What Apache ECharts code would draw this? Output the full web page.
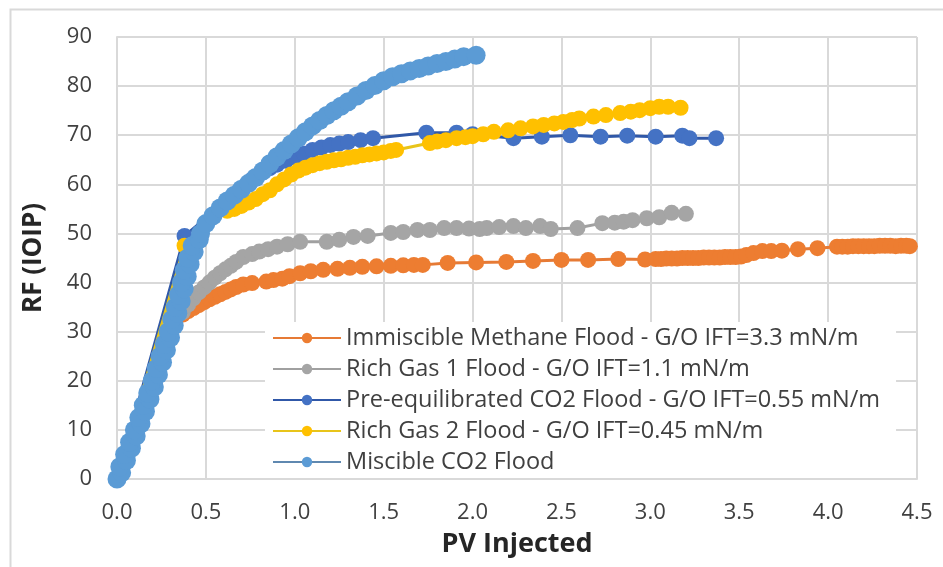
<!DOCTYPE html>
<html>
<head>
<meta charset="utf-8">
<script src="https://cdn.jsdelivr.net/npm/echarts@6/dist/echarts.min.js"></script>
<style>
html,body{margin:0;padding:0;background:#fff;}
#chart{width:943px;height:567px;}
</style>
</head>
<body>
<div id="chart"></div>
<script>
// ---- Data ----
var seriesNames = [
  'Immiscible Methane Flood - G/O IFT=3.3 mN/m',
  'Rich Gas 1 Flood - G/O IFT=1.1 mN/m',
  'Pre-equilibrated CO2 Flood - G/O IFT=0.55 mN/m',
  'Rich Gas 2 Flood - G/O IFT=0.45 mN/m',
  'Miscible CO2 Flood'
];

var methanePV = [0, 0.37, 0.40, 0.43, 0.46, 0.49, 0.52, 0.55, 0.58, 0.61, 0.64, 0.67, 0.71, 0.76, 0.84, 0.88, 0.93, 0.97, 1.03, 1.09, 1.16, 1.24, 1.31, 1.38, 1.46, 1.54, 1.61, 1.67, 1.72, 1.86, 2.02, 2.19, 2.34, 2.50, 2.65, 2.82, 2.97, 3.03, 3.06, 3.09, 3.12, 3.15, 3.18, 3.21, 3.24, 3.27, 3.30, 3.33, 3.36, 3.39, 3.42, 3.45, 3.48, 3.51, 3.54, 3.58, 3.63, 3.68, 3.74, 3.83, 3.94, 4.05, 4.08, 4.11, 4.14, 4.17, 4.20, 4.23, 4.26, 4.29, 4.32, 4.35, 4.38, 4.41, 4.44, 4.46];
var methaneRF = [0, 33.5, 34.2, 34.8, 35.4, 36.0, 36.6, 37.1, 37.6, 38.1, 38.6, 39.1, 39.6, 39.9, 40.2, 40.5, 40.8, 41.3, 41.9, 42.3, 42.6, 42.8, 43.0, 43.2, 43.3, 43.4, 43.5, 43.6, 43.6, 44.0, 44.1, 44.2, 44.4, 44.6, 44.6, 44.8, 44.7, 44.8, 44.8, 44.9, 44.9, 44.9, 45.0, 45.0, 45.0, 45.0, 45.1, 45.1, 45.1, 45.1, 45.2, 45.2, 45.2, 45.3, 45.6, 46.0, 46.4, 46.4, 46.5, 46.8, 47.0, 47.3, 47.3, 47.3, 47.4, 47.4, 47.4, 47.4, 47.4, 47.5, 47.5, 47.5, 47.4, 47.5, 47.5, 47.4];

var richGas1PV = [0, 0.37, 0.40, 0.43, 0.46, 0.49, 0.52, 0.55, 0.58, 0.61, 0.64, 0.67, 0.71, 0.76, 0.80, 0.85, 0.90, 0.96, 1.03, 1.18, 1.25, 1.33, 1.41, 1.54, 1.61, 1.69, 1.76, 1.84, 1.91, 1.98, 2.04, 2.08, 2.15, 2.23, 2.30, 2.38, 2.44, 2.59, 2.73, 2.80, 2.85, 2.90, 2.98, 3.05, 3.12, 3.20];
var richGas1RF = [0, 34.0, 35.5, 36.8, 38.0, 39.0, 40.0, 41.0, 41.9, 42.7, 43.4, 44.2, 45.2, 45.8, 46.3, 46.8, 47.3, 47.8, 48.3, 48.3, 48.7, 49.3, 49.5, 50.1, 50.3, 50.7, 50.7, 51.1, 51.1, 51.0, 50.9, 51.1, 51.3, 51.5, 51.1, 51.5, 50.9, 51.1, 52.1, 52.2, 52.4, 52.7, 53.1, 53.3, 54.2, 54.0];

var preEqCO2PV = [0, 0.38, 0.76, 0.82, 0.86, 0.90, 0.95, 1.00, 1.05, 1.10, 1.15, 1.20, 1.25, 1.30, 1.37, 1.44, 1.74, 1.91, 2.00, 2.23, 2.39, 2.55, 2.72, 2.87, 3.03, 3.18, 3.22, 3.37];
var preEqCO2RF = [0, 49.5, 61.0, 62.5, 63.3, 64.0, 64.8, 65.5, 66.3, 67.0, 67.5, 68.0, 68.3, 68.6, 69.0, 69.4, 70.5, 70.5, 70.2, 69.4, 69.7, 70.0, 69.7, 69.9, 69.7, 69.9, 69.4, 69.4];

var richGas2PV = [0, 0.38, 0.62, 0.66, 0.70, 0.74, 0.78, 0.82, 0.86, 0.90, 0.94, 0.98, 1.02, 1.06, 1.10, 1.14, 1.18, 1.22, 1.26, 1.30, 1.34, 1.38, 1.42, 1.46, 1.50, 1.54, 1.57, 1.76, 1.80, 1.85, 1.91, 1.96, 2.00, 2.06, 2.12, 2.20, 2.27, 2.34, 2.40, 2.46, 2.51, 2.56, 2.60, 2.68, 2.75, 2.83, 2.89, 2.94, 3.00, 3.05, 3.10, 3.17];
var richGas2RF = [0, 47.5, 54.6, 55.0, 55.6, 56.3, 57.0, 58.0, 58.8, 60.0, 61.0, 62.0, 62.8, 63.4, 63.9, 64.3, 64.6, 64.9, 65.1, 65.4, 65.6, 65.9, 66.1, 66.3, 66.5, 66.8, 67.0, 68.4, 68.7, 69.0, 69.4, 69.6, 69.8, 70.2, 70.7, 71.0, 71.4, 71.8, 72.1, 72.4, 72.7, 73.1, 73.4, 73.8, 74.1, 74.5, 74.8, 75.1, 75.5, 75.8, 75.8, 75.6];

var miscibleCO2PV = [0, 0.026, 0.016, 0.053, 0.043, 0.081, 0.071, 0.108, 0.098, 0.135, 0.123, 0.160, 0.148, 0.185, 0.173, 0.210, 0.198, 0.233, 0.221, 0.256, 0.243, 0.278, 0.266, 0.301, 0.288, 0.322, 0.308, 0.342, 0.328, 0.361, 0.346, 0.378, 0.363, 0.395, 0.379, 0.411, 0.398, 0.434, 0.423, 0.463, 0.47, 0.50, 0.54, 0.58, 0.62, 0.66, 0.70, 0.74, 0.78, 0.82, 0.86, 0.90, 0.94, 0.98, 1.02, 1.06, 1.10, 1.14, 1.18, 1.22, 1.26, 1.30, 1.35, 1.40, 1.45, 1.50, 1.55, 1.60, 1.65, 1.70, 1.75, 1.80, 1.85, 1.90, 1.95, 2.02];
var miscibleCO2RF = [0, 1.25, 2.5, 3.75, 5.0, 6.25, 7.5, 8.75, 10.0, 11.25, 12.5, 13.75, 15.0, 16.25, 17.5, 18.75, 20.0, 21.25, 22.5, 23.75, 25.0, 26.25, 27.5, 28.75, 30.0, 31.25, 32.5, 33.75, 35.0, 36.25, 37.5, 38.75, 40.0, 41.25, 42.5, 43.75, 45.0, 46.25, 47.5, 48.75, 50.0, 52.0, 53.6, 55.2, 56.6, 57.8, 59.0, 60.2, 61.4, 62.7, 64.2, 65.6, 66.9, 68.2, 69.5, 70.7, 71.9, 73.0, 74.0, 75.0, 75.9, 76.8, 78.0, 79.1, 80.1, 81.1, 81.9, 82.5, 83.1, 83.6, 84.1, 84.6, 85.0, 85.5, 86.0, 86.3];

var xTicks = [0, 0.5, 1.0, 1.5, 2.0, 2.5, 3.0, 3.5, 4.0, 4.5];
var yTicks = [0, 10, 20, 30, 40, 50, 60, 70, 80, 90];

// ---- Styles ----
var markerColors = ['#ED7D31', '#A5A5A5', '#4472C4', '#FFC000', '#5B9BD5'];
var lineColors   = ['#E67A35', '#A0A0A0', '#3058A8', '#E8C41A', '#5F88B0'];
var markerSizes  = [16, 16, 16, 16, 19];

function zip(xs, ys) {
  var out = [];
  for (var i = 0; i < xs.length; i++) out.push([xs[i], ys[i]]);
  return out;
}
var allData = [
  zip(methanePV, methaneRF),
  zip(richGas1PV, richGas1RF),
  zip(preEqCO2PV, preEqCO2RF),
  zip(richGas2PV, richGas2RF),
  zip(miscibleCO2PV, miscibleCO2RF)
];

var font = '"Open Sans", "Noto Sans", sans-serif';
var gridColor = '#D9D9D9';
var textColor = '#404040';

var series = allData.map(function (d, i) {
  return {
    name: seriesNames[i],
    type: 'line',
    data: d,
    symbol: 'circle',
    symbolSize: markerSizes[i],
    showSymbol: true,
    showAllSymbol: true,
    lineStyle: { color: lineColors[i], width: 3 },
    itemStyle: { color: markerColors[i], borderWidth: 0 },
    emphasis: { disabled: true },
    z: 2 + i
  };
});

var chart = echarts.init(document.getElementById('chart'), null, { renderer: 'canvas' });
chart.setOption({
  animation: false,
  backgroundColor: '#ffffff',
  grid: { left: 117, right: 26, top: 37, bottom: 88, containLabel: false },
  xAxis: {
    type: 'value',
    min: xTicks[0],
    max: xTicks[xTicks.length - 1],
    interval: 0.5,
    name: 'PV Injected',
    nameLocation: 'middle',
    nameGap: 52,
    nameTextStyle: { fontFamily: font, fontSize: 27, fontWeight: 'bold', color: '#262626' },
    axisLine: { show: true, lineStyle: { color: gridColor, width: 2 } },
    axisTick: { show: false },
    axisLabel: {
      margin: 23, fontFamily: font, fontSize: 22, color: textColor,
      formatter: function (v) { return v.toFixed(1); }
    },
    splitLine: { show: true, lineStyle: { color: gridColor, width: 2 } }
  },
  yAxis: {
    type: 'value',
    min: yTicks[0],
    max: yTicks[yTicks.length - 1],
    interval: 10,
    name: 'RF (IOIP)',
    nameLocation: 'middle',
    nameGap: 70,
    nameTextStyle: { fontFamily: font, fontSize: 26, fontWeight: 'bold', color: '#262626' },
    axisLine: { show: true, lineStyle: { color: gridColor, width: 2 } },
    axisTick: { show: false },
    axisLabel: { margin: 25, fontFamily: font, fontSize: 22, color: textColor },
    splitLine: { show: true, lineStyle: { color: gridColor, width: 2 } }
  },
  legend: {
    orient: 'vertical',
    left: 265,
    top: 322,
    padding: [4, 16, 4, 7],
    backgroundColor: '#ffffff',
    itemWidth: 68,
    itemHeight: 13,
    itemGap: 7,
    data: seriesNames,
    textStyle: { fontFamily: font, fontSize: 23.5, lineHeight: 23, color: textColor },
    z: 20
  },
  graphic: [{
    type: 'rect',
    shape: { x: 10.5, y: 9.5, width: 935, height: 562 },
    style: { fill: 'none', stroke: '#D9D9D9', lineWidth: 2 },
    silent: true,
    z: -1
  }],
  series: series
});
</script>
</body>
</html>
